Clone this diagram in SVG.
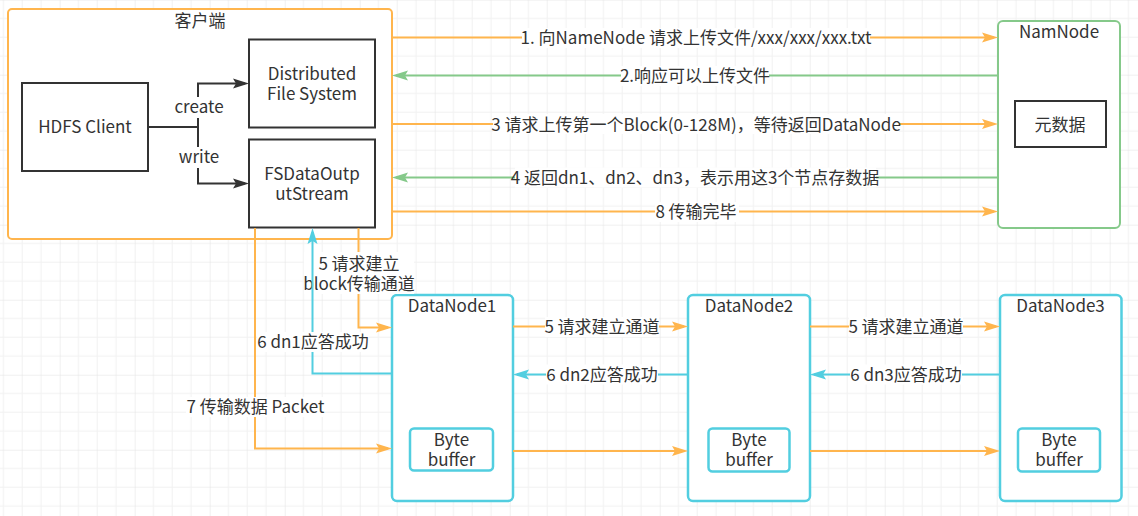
<svg xmlns="http://www.w3.org/2000/svg" width="1138" height="516" viewBox="0 0 1138 516">
<defs>
<pattern id="grid" patternUnits="userSpaceOnUse" x="-15.3" y="-0.3" width="75" height="75">
<path d="M18.75,0V75M37.5,0V75M56.25,0V75M0,18.75H75M0,37.5H75M0,56.25H75" stroke="#f1f1f1" stroke-width="1" fill="none"/>
<path d="M0,0V75M0,0H75" stroke="#e1e1e1" stroke-width="1" fill="none"/>
</pattern>
<marker id="aO" markerUnits="userSpaceOnUse" markerWidth="17" markerHeight="11" viewBox="0 0 17 11" refX="12" refY="5.5" orient="auto">
<path d="M0,0.5L16,5.5L0,10.5L3,5.5Z" fill="#FFB54D"/>
</marker>
<marker id="aG" markerUnits="userSpaceOnUse" markerWidth="17" markerHeight="11" viewBox="0 0 17 11" refX="12" refY="5.5" orient="auto">
<path d="M0,0.5L16,5.5L0,10.5L3,5.5Z" fill="#85C98A"/>
</marker>
<marker id="aC" markerUnits="userSpaceOnUse" markerWidth="17" markerHeight="11" viewBox="0 0 17 11" refX="12" refY="5.5" orient="auto">
<path d="M0,0.5L16,5.5L0,10.5L3,5.5Z" fill="#52CEE0"/>
</marker>
<marker id="aK" markerUnits="userSpaceOnUse" markerWidth="17" markerHeight="11" viewBox="0 0 17 11" refX="12" refY="5.5" orient="auto">
<path d="M0,0.5L16,5.5L0,10.5L3,5.5Z" fill="#333333"/>
</marker>
</defs>
<style>
.t{font-family:"Noto Sans CJK SC",sans-serif;font-size:17px;fill:#333;text-anchor:middle;dominant-baseline:central}
.bg{fill:#fff}
.box{fill:#fff;stroke:#333;stroke-width:2}
.cl{fill:#fff;stroke:#FFB54D;stroke-width:2}
.nn{fill:#fff;stroke:#85C98A;stroke-width:2}
.dn{fill:#fff;stroke:#52CEE0;stroke-width:2.5}
.o{fill:none;stroke:#FFB54D;stroke-width:2;marker-end:url(#aO)}
.g{fill:none;stroke:#85C98A;stroke-width:2;marker-end:url(#aG)}
.c{fill:none;stroke:#52CEE0;stroke-width:2;marker-end:url(#aC)}
.k{fill:none;stroke:#333;stroke-width:2;marker-end:url(#aK)}
</style>
<rect x="0" y="0" width="1138" height="516" fill="#fff"/>
<rect x="0" y="0" width="1138" height="516" fill="url(#grid)"/>

<g id="client">
<rect class="cl" x="8" y="9" width="384" height="230" rx="4"/>
<text class="t" x="200" y="19.5">客户端</text>
</g>
<g id="hdfs-client">
<rect class="box" x="22" y="83" width="126" height="88"/>
<text class="t" x="85" y="125.5">HDFS Client</text>
</g>
<g id="dfs">
<rect class="box" x="249" y="39.5" width="126" height="88"/>
<text class="t" x="312" y="71.5"><tspan x="312">Distributed</tspan><tspan x="312" dy="20">File System</tspan></text>
</g>
<g id="fsdos">
<rect class="box" x="249" y="139.5" width="126" height="88"/>
<text class="t" x="312" y="171.5"><tspan x="312">FSDataOutp</tspan><tspan x="312" dy="20">utStream</tspan></text>
</g>
<g id="namenode">
<rect class="nn" x="998" y="21" width="122" height="207" rx="5"/>
<text class="t" x="1059" y="30.5">NamNode</text>
<rect class="box" x="1015" y="101" width="91" height="46"/>
<text class="t" x="1060" y="123.5">元数据</text>
</g>
<g id="datanode1">
<rect class="dn" x="392" y="295" width="121" height="206" rx="5"/>
<text class="t" x="452" y="304">DataNode1</text>
<rect class="dn" x="410" y="428.5" width="83" height="42" rx="4"/>
<text class="t" x="451.5" y="438"><tspan x="451.5">Byte</tspan><tspan x="451.5" dy="20">buffer</tspan></text>
</g>
<g id="datanode2">
<rect class="dn" x="688" y="295" width="122" height="206" rx="5"/>
<text class="t" x="749" y="304">DataNode2</text>
<rect class="dn" x="708.5" y="428.5" width="81" height="43" rx="4"/>
<text class="t" x="749" y="438"><tspan x="749">Byte</tspan><tspan x="749" dy="20">buffer</tspan></text>
</g>
<g id="datanode3">
<rect class="dn" x="1000" y="295" width="121.5" height="206" rx="5"/>
<text class="t" x="1060.5" y="304">DataNode3</text>
<rect class="dn" x="1018" y="428.5" width="82" height="43" rx="4"/>
<text class="t" x="1059" y="438"><tspan x="1059">Byte</tspan><tspan x="1059" dy="20">buffer</tspan></text>
</g>

<g id="connectors">
<path class="k" d="M148,127H198V83.5H245"/>
<path class="k" d="M198,127V183.5H245"/>
<rect class="bg" x="174" y="97" width="50" height="21"/>
<text class="t" x="199" y="105.5">create</text>
<rect class="bg" x="178" y="147" width="42" height="21"/>
<text class="t" x="199" y="155.5">write</text>

<path class="o" d="M392,37.5H994"/>
<rect class="bg" x="522" y="28" width="348" height="20"/>
<text class="t" x="696" y="36.5">1. 向NameNode 请求上传文件/xxx/xxx/xxx.txt</text>

<path class="g" d="M998,75.5H396"/>
<rect class="bg" x="621" y="66" width="148" height="20"/>
<text class="t" x="695" y="74.5">2.响应可以上传文件</text>

<path class="o" d="M392,124H994"/>
<rect class="bg" x="493" y="114" width="406" height="20"/>
<text class="t" x="696" y="123">3 请求上传第一个Block(0-128M)，等待返回DataNode</text>

<path class="g" d="M998,177.5H396"/>
<rect class="bg" x="515" y="167.5" width="361" height="20"/>
<text class="t" x="695" y="176.5">4 返回dn1、dn2、dn3，表示用这3个节点存数据</text>

<path class="o" d="M392,211.5H994"/>
<rect class="bg" x="655" y="202" width="84" height="20"/>
<text class="t" x="696" y="210.5">8 传输完毕</text>

<path class="o" d="M358.5,228V327.5H388"/>
<rect class="bg" x="304" y="252" width="110" height="42"/>
<text class="t" x="359" y="261.5"><tspan x="359">5 请求建立</tspan><tspan x="359" dy="20">block传输通道</tspan></text>

<path class="c" d="M392,373.5H312.5V232"/>
<rect class="bg" x="257" y="332" width="112" height="20"/>
<text class="t" x="313" y="340.5">6 dn1应答成功</text>

<path class="o" d="M255,228V448.5H388"/>
<rect class="bg" x="186" y="397" width="139" height="20"/>
<text class="t" x="255.5" y="405.5">7 传输数据 Packet</text>

<path class="o" d="M513,326.5H684"/>
<rect class="bg" x="545" y="317" width="114" height="20"/>
<text class="t" x="602" y="325.5">5 请求建立通道</text>

<path class="c" d="M688,374.5H517"/>
<rect class="bg" x="546" y="364.5" width="112" height="20"/>
<text class="t" x="602" y="373.5">6 dn2应答成功</text>

<path class="o" d="M513,451H684"/>

<path class="o" d="M810,326.5H996"/>
<rect class="bg" x="849" y="317" width="114" height="20"/>
<text class="t" x="906" y="325.5">5 请求建立通道</text>

<path class="c" d="M1000,374.5H814"/>
<rect class="bg" x="850" y="364.5" width="112" height="20"/>
<text class="t" x="906" y="373.5">6 dn3应答成功</text>

<path class="o" d="M810,451H996"/>
</g>
</svg>
